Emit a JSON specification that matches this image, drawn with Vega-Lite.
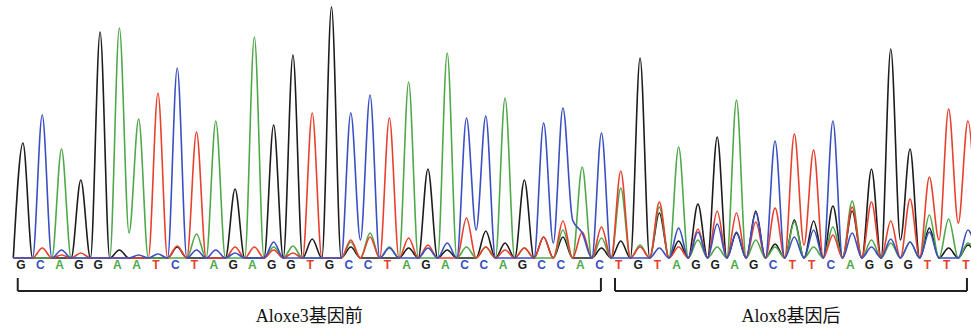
{
  "$schema": "https://vega.github.io/schema/vega-lite/v6.json",
  "width": 971,
  "height": 331,
  "autosize": {"type": "fit", "contains": "padding"},
  "padding": 0,
  "background": "white",
  "config": {"view": {"stroke": null}},
  "datasets": {
    "trace": [
      {"p":0.5,"G":0,"A":0,"T":0,"C":0},
      {"p":1,"G":115,"A":0,"T":0,"C":0},
      {"p":1.5,"G":0,"A":0,"T":0,"C":0},
      {"p":2,"G":0,"A":0,"T":10,"C":143},
      {"p":2.5,"G":0,"A":0,"T":0,"C":0},
      {"p":3,"G":0,"A":109,"T":3,"C":8},
      {"p":3.5,"G":0,"A":0,"T":0,"C":0},
      {"p":4,"G":78,"A":0,"T":5,"C":0},
      {"p":4.5,"G":0,"A":0,"T":0,"C":0},
      {"p":5,"G":226,"A":0,"T":0,"C":0},
      {"p":5.5,"G":0,"A":0,"T":0,"C":0},
      {"p":6,"G":8,"A":230,"T":0,"C":0},
      {"p":6.5,"G":0,"A":25,"T":0,"C":0},
      {"p":7,"G":0,"A":139,"T":0,"C":3},
      {"p":7.5,"G":0,"A":0,"T":0,"C":0},
      {"p":8,"G":0,"A":0,"T":165,"C":4},
      {"p":8.5,"G":0,"A":0,"T":0,"C":0},
      {"p":9,"G":11,"A":0,"T":12,"C":190},
      {"p":9.5,"G":0,"A":0,"T":0,"C":0},
      {"p":10,"G":0,"A":24,"T":126,"C":8},
      {"p":10.5,"G":0,"A":0,"T":0,"C":0},
      {"p":11,"G":0,"A":137,"T":0,"C":8},
      {"p":11.5,"G":0,"A":0,"T":0,"C":0},
      {"p":12,"G":69,"A":0,"T":11,"C":5},
      {"p":12.5,"G":0,"A":0,"T":0,"C":0},
      {"p":13,"G":0,"A":221,"T":11,"C":0},
      {"p":13.5,"G":0,"A":0,"T":0,"C":0},
      {"p":14,"G":133,"A":11,"T":8,"C":16},
      {"p":14.5,"G":0,"A":0,"T":0,"C":0},
      {"p":15,"G":203,"A":12,"T":5,"C":0},
      {"p":15.5,"G":0,"A":0,"T":0,"C":0},
      {"p":16,"G":19,"A":0,"T":145,"C":0},
      {"p":16.5,"G":0,"A":0,"T":0,"C":0},
      {"p":17,"G":251,"A":0,"T":0,"C":0},
      {"p":17.5,"G":0,"A":0,"T":0,"C":0},
      {"p":18,"G":11,"A":16,"T":18,"C":145},
      {"p":18.5,"G":0,"A":0,"T":0,"C":18},
      {"p":19,"G":0,"A":25,"T":21,"C":163},
      {"p":19.5,"G":0,"A":0,"T":0,"C":0},
      {"p":20,"G":0,"A":11,"T":140,"C":10},
      {"p":20.5,"G":0,"A":0,"T":0,"C":0},
      {"p":21,"G":10,"A":176,"T":20,"C":0},
      {"p":21.5,"G":0,"A":0,"T":0,"C":0},
      {"p":22,"G":89,"A":0,"T":13,"C":10},
      {"p":22.5,"G":0,"A":0,"T":0,"C":0},
      {"p":23,"G":8,"A":205,"T":0,"C":15},
      {"p":23.5,"G":0,"A":0,"T":0,"C":0},
      {"p":24,"G":0,"A":11,"T":40,"C":140},
      {"p":24.5,"G":0,"A":0,"T":0,"C":28},
      {"p":25,"G":27,"A":11,"T":11,"C":142},
      {"p":25.5,"G":0,"A":0,"T":0,"C":0},
      {"p":26,"G":15,"A":160,"T":8,"C":0},
      {"p":26.5,"G":0,"A":0,"T":0,"C":0},
      {"p":27,"G":78,"A":10,"T":10,"C":0},
      {"p":27.5,"G":0,"A":0,"T":0,"C":0},
      {"p":28,"G":21,"A":0,"T":21,"C":135},
      {"p":28.5,"G":0,"A":0,"T":0,"C":15},
      {"p":29,"G":21,"A":28,"T":37,"C":150},
      {"p":29.5,"G":0,"A":0,"T":0,"C":38},
      {"p":30,"G":0,"A":91,"T":26,"C":25},
      {"p":30.5,"G":0,"A":0,"T":0,"C":0},
      {"p":31,"G":10,"A":20,"T":31,"C":125},
      {"p":31.5,"G":0,"A":0,"T":0,"C":0},
      {"p":32,"G":17,"A":70,"T":87,"C":0},
      {"p":32.5,"G":0,"A":0,"T":0,"C":0},
      {"p":33,"G":200,"A":13,"T":11,"C":0},
      {"p":33.5,"G":0,"A":0,"T":0,"C":0},
      {"p":34,"G":45,"A":51,"T":56,"C":10},
      {"p":34.5,"G":0,"A":0,"T":0,"C":0},
      {"p":35,"G":17,"A":111,"T":11,"C":30},
      {"p":35.5,"G":0,"A":0,"T":0,"C":0},
      {"p":36,"G":54,"A":18,"T":29,"C":26},
      {"p":36.5,"G":0,"A":0,"T":0,"C":0},
      {"p":37,"G":121,"A":11,"T":47,"C":34},
      {"p":37.5,"G":0,"A":0,"T":0,"C":0},
      {"p":38,"G":25,"A":158,"T":45,"C":26},
      {"p":38.5,"G":0,"A":0,"T":0,"C":0},
      {"p":39,"G":47,"A":18,"T":36,"C":45},
      {"p":39.5,"G":0,"A":0,"T":0,"C":0},
      {"p":40,"G":14,"A":11,"T":50,"C":117},
      {"p":40.5,"G":0,"A":0,"T":0,"C":0},
      {"p":41,"G":38,"A":36,"T":124,"C":21},
      {"p":41.5,"G":0,"A":0,"T":13,"C":0},
      {"p":42,"G":37,"A":11,"T":108,"C":28},
      {"p":42.5,"G":0,"A":0,"T":0,"C":0},
      {"p":43,"G":52,"A":31,"T":23,"C":137},
      {"p":43.5,"G":0,"A":0,"T":0,"C":0},
      {"p":44,"G":47,"A":57,"T":51,"C":25},
      {"p":44.5,"G":0,"A":0,"T":0,"C":0},
      {"p":45,"G":89,"A":18,"T":56,"C":11},
      {"p":45.5,"G":0,"A":0,"T":0,"C":0},
      {"p":46,"G":209,"A":15,"T":37,"C":19},
      {"p":46.5,"G":18,"A":0,"T":0,"C":0},
      {"p":47,"G":109,"A":16,"T":59,"C":16},
      {"p":47.5,"G":0,"A":0,"T":0,"C":0},
      {"p":48,"G":30,"A":43,"T":81,"C":26},
      {"p":48.5,"G":0,"A":0,"T":18,"C":0},
      {"p":49,"G":10,"A":39,"T":149,"C":0},
      {"p":49.5,"G":0,"A":0,"T":35,"C":0},
      {"p":50,"G":13,"A":15,"T":137,"C":28},
      {"p":50.5,"G":0,"A":0,"T":0,"C":0}
    ],
    "bases": [
      {"i":1,"b":"G"},{"i":2,"b":"C"},{"i":3,"b":"A"},{"i":4,"b":"G"},{"i":5,"b":"G"},
      {"i":6,"b":"A"},{"i":7,"b":"A"},{"i":8,"b":"T"},{"i":9,"b":"C"},{"i":10,"b":"T"},
      {"i":11,"b":"A"},{"i":12,"b":"G"},{"i":13,"b":"A"},{"i":14,"b":"G"},{"i":15,"b":"G"},
      {"i":16,"b":"T"},{"i":17,"b":"G"},{"i":18,"b":"C"},{"i":19,"b":"C"},{"i":20,"b":"T"},
      {"i":21,"b":"A"},{"i":22,"b":"G"},{"i":23,"b":"A"},{"i":24,"b":"C"},{"i":25,"b":"C"},
      {"i":26,"b":"A"},{"i":27,"b":"G"},{"i":28,"b":"C"},{"i":29,"b":"C"},{"i":30,"b":"A"},
      {"i":31,"b":"C"},{"i":32,"b":"T"},{"i":33,"b":"G"},{"i":34,"b":"T"},{"i":35,"b":"A"},
      {"i":36,"b":"G"},{"i":37,"b":"G"},{"i":38,"b":"A"},{"i":39,"b":"G"},{"i":40,"b":"C"},
      {"i":41,"b":"T"},{"i":42,"b":"T"},{"i":43,"b":"C"},{"i":44,"b":"A"},{"i":45,"b":"G"},
      {"i":46,"b":"G"},{"i":47,"b":"G"},{"i":48,"b":"T"},{"i":49,"b":"T"},{"i":50,"b":"T"}
    ],
    "brackets": [
      {"from":0.73,"to":30.97,"mid":15.85,"label":"Aloxe3基因前"},
      {"from":31.7,"to":49.95,"mid":40.83,"label":"Alox8基因后"}
    ]
  },
  "layer": [
    {
      "data": {"name": "trace"},
      "transform": [{"fold": ["G", "A", "T", "C"], "as": ["base", "h"]}],
      "mark": {"type": "line", "interpolate": "monotone", "strokeWidth": 1.6, "clip": true},
      "encoding": {
        "x": {"field": "p", "type": "quantitative", "scale": {"domain": [-0.19, 50.16], "nice": false, "zero": false}, "axis": null},
        "y": {"field": "h", "type": "quantitative", "scale": {"domain": [-73, 258], "nice": false, "zero": false}, "axis": null},
        "color": {"field": "base", "type": "nominal", "scale": {"domain": ["A", "C", "G", "T"], "range": ["#4fa84a", "#3a4fc2", "#1c1c1c", "#e8402e"]}, "legend": null}
      }
    },
    {
      "data": {"name": "bases"},
      "mark": {"type": "text", "font": "Liberation Sans", "fontSize": 12, "fontWeight": "bold", "baseline": "middle", "align": "center", "dx": -2},
      "encoding": {
        "x": {"field": "i", "type": "quantitative"},
        "y": {"datum": -7},
        "text": {"field": "b"},
        "color": {"field": "b", "type": "nominal", "legend": null}
      }
    },
    {
      "data": {"name": "brackets"},
      "mark": {"type": "rule", "color": "#222222", "strokeWidth": 2},
      "encoding": {
        "x": {"field": "from", "type": "quantitative"},
        "x2": {"field": "to"},
        "y": {"datum": -33}
      }
    },
    {
      "data": {"name": "brackets"},
      "transform": [{"fold": ["from", "to"], "as": ["end", "xe"]}],
      "mark": {"type": "rule", "color": "#222222", "strokeWidth": 2},
      "encoding": {
        "x": {"field": "xe", "type": "quantitative"},
        "y": {"datum": -20},
        "y2": {"datum": -33}
      }
    },
    {
      "data": {"name": "brackets"},
      "mark": {"type": "text", "font": "Liberation Serif, Noto Sans CJK SC", "fontSize": 18, "baseline": "alphabetic", "align": "center", "color": "#111111"},
      "encoding": {
        "x": {"field": "mid", "type": "quantitative"},
        "y": {"datum": -64},
        "text": {"field": "label"}
      }
    }
  ]
}
